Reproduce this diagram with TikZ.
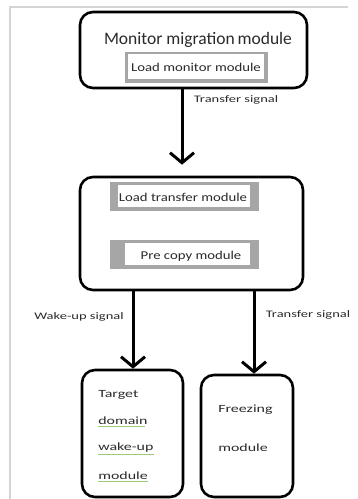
\documentclass[tikz,border=0pt]{standalone}
\usepackage{fontspec}
\setmainfont{Carlito}
\usetikzlibrary{arrows.meta,calc}
\definecolor{txt}{HTML}{2A2A2A}
\definecolor{frame}{HTML}{D4D4D4}
\definecolor{inbord}{HTML}{A6A6A6}
\definecolor{squig}{HTML}{9CCB7A}
\tikzset{
  bigbox/.style={draw=black, line width=2.6pt, rounded corners=13pt, inner sep=0pt},
  graybox/.style={fill=inbord, draw=inbord, line width=0.6pt, inner sep=0pt},
  whitebox/.style={fill=white, inner sep=0pt},
  lbl/.style={text=txt, inner sep=0pt, xscale=1.45, font=\fontsize{10}{12}\selectfont},
  inlbl/.style={text=txt, inner sep=0pt, xscale=1.23, font=\fontsize{12}{14}\selectfont},
  btlbl/.style={text=txt, inner sep=0pt, xscale=1.45, anchor=west, font=\fontsize{11}{13}\selectfont},
  arr/.style={line width=3pt, -{Straight Barb[length=10pt,width=24pt,line width=3pt]}},
  squigline/.style={squig, line width=0.8pt}
}
\begin{document}
\begin{tikzpicture}[x=1pt,y=-1pt]
\useasboundingbox (0,0) rectangle (357,499);
% frame
\draw[frame, line width=1.4pt] (10,499) -- (10,7) -- (348,7);
% top box
\node[bigbox, minimum width=227pt, minimum height=76pt] (topbox) at (193.5,50) {};
\node[text=txt, inner sep=0pt, font=\fontsize{17.5}{20}\selectfont] (toptitle) at (198,40) {Monitor migration\,module};
\node[graybox, minimum width=142pt, minimum height=30pt] (lmonout) at (196,67) {};
\node[whitebox, minimum width=136pt, minimum height=25pt] (lmonin) at (196,66) {};
\node[inlbl] (lmontxt) at (196,67) {Load monitor module};
% middle box
\node[bigbox, minimum width=223pt, minimum height=113pt] (midbox) at (191.5,233.5) {};
\node[graybox, minimum width=148pt, minimum height=28pt] (ltout) at (184,196) {};
\node[whitebox, minimum width=132pt, minimum height=22pt] (ltin) at (184,196) {};
\node[inlbl] (lttxt) at (183,197) {Load transfer module};
\node[graybox, minimum width=148pt, minimum height=28pt] (pcout) at (184,254) {};
\node[whitebox, minimum width=125pt, minimum height=22pt] (pcin) at (187.5,254) {};
\node[inlbl] (pctxt) at (191,256) {Pre copy module};
% bottom boxes
\node[bigbox, minimum width=101pt, minimum height=127pt] (tgtbox) at (132.5,433.5) {};
\node[bigbox, minimum width=92pt, minimum height=122pt] (frzbox) at (247,436) {};
\node[btlbl] (t1) at (98,395) {Target};
\node[btlbl] (t2) at (98,421) {domain};
\node[btlbl] (t3) at (98,448) {wake-up};
\node[btlbl] (t4) at (98,476) {module};
\draw[squigline] (t2.south west) ++(0,1.8) -- ++(47,0);
\draw[squigline] (t3.south west) ++(0,1.8) -- ++(56,0);
\draw[squigline] (t4.south west) ++(0,1.8) -- ++(50,0);
\node[btlbl] (f1) at (218,410) {Freezing};
\node[btlbl] (f2) at (218,448) {module};
% arrows
\draw[arr, shorten >=11pt] (topbox.south -| 182,0) -- (midbox.north -| 182,0);
\node[lbl] (ts1) at (236,100) {Transfer signal};
\draw[arr] (midbox.south -| 133,0) -- (tgtbox.north -| 133,0);
\draw[arr] (midbox.south -| 254,0) -- (frzbox.north -| 254,0);
\node[lbl, fill=white, inner sep=1.5pt] (wus) at (79,317) {Wake-up signal};
\node[lbl] (ts2) at (308,315) {Transfer signal};
\end{tikzpicture}
\end{document}
